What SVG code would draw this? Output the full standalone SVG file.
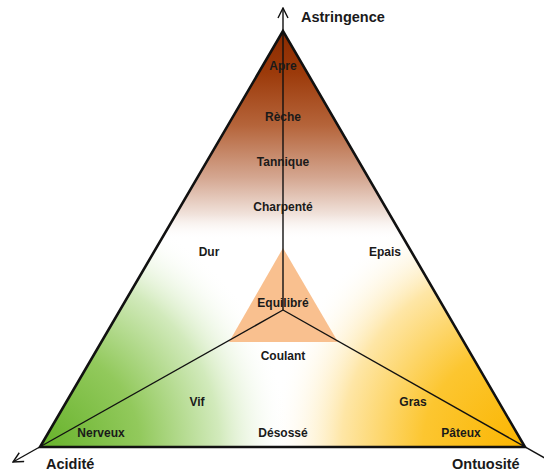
<svg xmlns="http://www.w3.org/2000/svg" width="544" height="472" viewBox="0 0 544 472">
<style>
.lbl{font-family:"Liberation Sans",Arial,sans-serif;font-weight:bold;font-size:12px;fill:#1a1a1a;text-anchor:middle;dominant-baseline:central}
.axis{font-family:"Liberation Sans",Arial,sans-serif;font-weight:bold;font-size:14.5px;fill:#1a1a1a;dominant-baseline:central}
.ln{stroke:#111;stroke-width:1.4;fill:none}
</style>
<defs>
<clipPath id="tri"><polygon points="283,31 40,447 525,447"/></clipPath>
<linearGradient id="brown" gradientUnits="userSpaceOnUse" x1="0" y1="31" x2="0" y2="240">
<stop offset="0" stop-color="#8a2a00"/>
<stop offset="0.2" stop-color="#9c3a0a"/>
<stop offset="0.45" stop-color="#b5643a"/>
<stop offset="0.7" stop-color="#d4a690"/>
<stop offset="0.88" stop-color="#f1e3dc"/>
<stop offset="1" stop-color="#ffffff" stop-opacity="0"/>
</linearGradient>
<radialGradient id="green" gradientUnits="userSpaceOnUse" cx="40" cy="447" r="250">
<stop offset="0" stop-color="#66b22a"/>
<stop offset="0.4" stop-color="#92c95c"/>
<stop offset="0.72" stop-color="#d2eabc"/>
<stop offset="1" stop-color="#ffffff" stop-opacity="0"/>
</radialGradient>
<radialGradient id="yellow" gradientUnits="userSpaceOnUse" cx="525" cy="447" r="255">
<stop offset="0" stop-color="#fbb500"/>
<stop offset="0.4" stop-color="#fcc630"/>
<stop offset="0.72" stop-color="#fee6a6"/>
<stop offset="1" stop-color="#ffffff" stop-opacity="0"/>
</radialGradient>
<marker id="arr" viewBox="0 0 12 12" refX="11" refY="6" markerWidth="12" markerHeight="12" markerUnits="userSpaceOnUse" orient="auto">
<path d="M1,1 L11,6 L1,11" fill="none" stroke="#111" stroke-width="1.4"/>
</marker>
</defs>
<rect width="544" height="472" fill="#ffffff"/>
<g id="triangle">
<polygon points="283,31 40,447 525,447" fill="#ffffff"/>
<g clip-path="url(#tri)">
<rect x="0" y="0" width="544" height="472" fill="url(#green)"/>
<rect x="0" y="0" width="544" height="472" fill="url(#yellow)"/>
<rect x="0" y="0" width="544" height="260" fill="url(#brown)"/>
</g>
<polygon points="283,248 229,342 338,342" fill="#f9c08f"/>
<polygon points="283,31 40,447 525,447" fill="none" stroke="#111" stroke-width="2.6" stroke-linejoin="miter"/>
</g>
<g id="connectors">
<line class="ln" x1="283" y1="310" x2="283" y2="8" marker-end="url(#arr)"/>
<line class="ln" x1="283" y1="310" x2="13" y2="462" marker-end="url(#arr)"/>
<line class="ln" x1="283" y1="310" x2="550" y2="461"/>
</g>
<g id="axis-astringence"><text class="axis" x="301" y="17">Astringence</text></g>
<g id="axis-acidite"><text class="axis" x="46" y="464">Acidité</text></g>
<g id="axis-ontuosite"><text class="axis" x="452" y="464">Ontuosité</text></g>
<g id="n-apre"><text class="lbl" x="283" y="66">Apre</text></g>
<g id="n-reche"><text class="lbl" x="283" y="117">Rèche</text></g>
<g id="n-tannique"><text class="lbl" x="283" y="162">Tannique</text></g>
<g id="n-charpente"><text class="lbl" x="283" y="207">Charpenté</text></g>
<g id="n-dur"><text class="lbl" x="209" y="252">Dur</text></g>
<g id="n-epais"><text class="lbl" x="385" y="252">Epais</text></g>
<g id="n-equilibre"><text class="lbl" x="283" y="303">Equilibré</text></g>
<g id="n-coulant"><text class="lbl" x="283" y="356">Coulant</text></g>
<g id="n-vif"><text class="lbl" x="197" y="402">Vif</text></g>
<g id="n-gras"><text class="lbl" x="413" y="402">Gras</text></g>
<g id="n-nerveux"><text class="lbl" x="101" y="433">Nerveux</text></g>
<g id="n-desosse"><text class="lbl" x="283" y="433">Désossé</text></g>
<g id="n-pateux"><text class="lbl" x="461" y="433">Pâteux</text></g>
</svg>
